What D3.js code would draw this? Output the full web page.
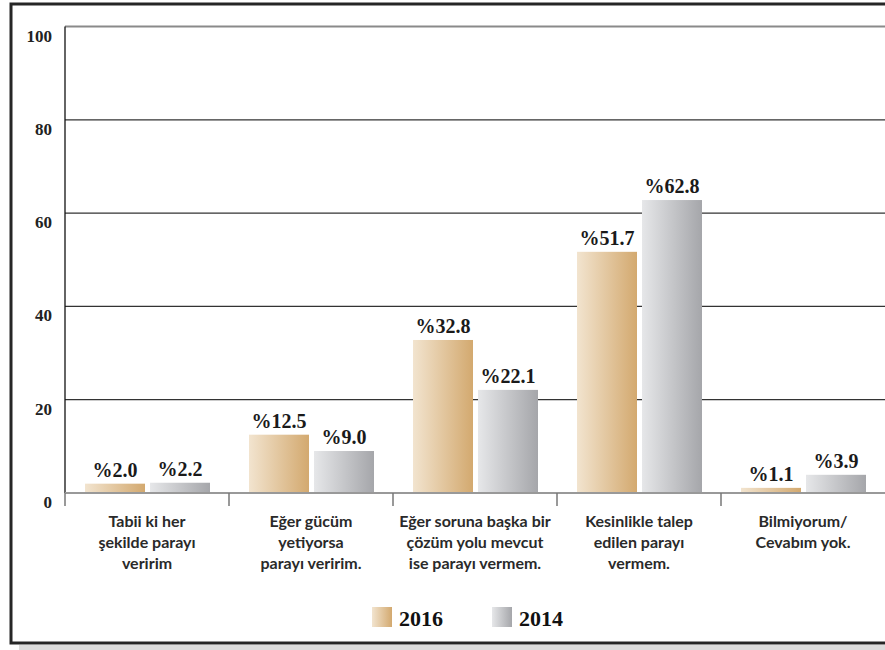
<!DOCTYPE html>
<html><head><meta charset="utf-8">
<script src="https://cdn.jsdelivr.net/npm/d3@7"></script>
<style>body{margin:0;background:#fff}svg{display:block}</style>
</head><body>
<svg id="c" width="885" height="650"></svg>
<script>
const categories = [
  ["Tabii ki her","şekilde parayı","veririm"],
  ["Eğer gücüm","yetiyorsa","parayı veririm."],
  ["Eğer soruna başka bir","çözüm yolu mevcut","ise parayı vermem."],
  ["Kesinlikle talep","edilen parayı","vermem."],
  ["Bilmiyorum/","Cevabım yok."]
];
const series = ["2016","2014"];
const values2016 = [2.0, 12.5, 32.8, 51.7, 1.1];
const values2014 = [2.2, 9.0, 22.1, 62.8, 3.9];
const yTicks = [0,20,40,60,80,100];

const svg = d3.select("#c");
const defs = svg.append("defs");
const g16 = defs.append("linearGradient").attr("id","g2016");
g16.append("stop").attr("offset","0%").attr("stop-color","#f2e4cf");
g16.append("stop").attr("offset","100%").attr("stop-color","#d3a96f");
const g14 = defs.append("linearGradient").attr("id","g2014");
g14.append("stop").attr("offset","0%").attr("stop-color","#e6e7e9");
g14.append("stop").attr("offset","100%").attr("stop-color","#a5a6aa");
const fills = {"2016":"url(#g2016)","2014":"url(#g2014)"};

// frame shadow and border
svg.append("rect").attr("x",19).attr("y",645).attr("width",870).attr("height",5).attr("fill","#dcdcdc");
svg.append("rect").attr("x",11).attr("y",4).attr("width",890).attr("height",639)
  .attr("fill","#fff").attr("stroke","#262626").attr("stroke-width",3);

const L=65, R=885, T=26.5, B=493;
const x = d3.scaleBand().domain(d3.range(categories.length)).range([L,R]).paddingInner(0).paddingOuter(0);
const xs = d3.scaleBand().domain(series).range([20,145]).paddingInner(5/65);
const y = d3.scaleLinear().domain([0,100]).range([B,T]);

// gridlines
svg.append("g").selectAll("line").data(yTicks.filter(d=>d>0)).join("line")
  .attr("x1",L).attr("x2",R).attr("y1",d=>y(d)).attr("y2",d=>y(d))
  .attr("stroke",d=>d===100?"#8a8a8a":"#333").attr("stroke-width",d=>d===100?2:1.3);

// y labels
svg.append("g").selectAll("text").data(yTicks).join("text")
  .attr("x",52).attr("y",d=>y(d)+15).attr("text-anchor","end")
  .attr("font-family","Liberation Serif, serif").attr("font-weight","bold")
  .attr("font-size",17).attr("fill","#222").text(d=>d);

// bars
const data = categories.map((c,i)=>({i, v:{"2016":values2016[i],"2014":values2014[i]}}));
const grp = svg.append("g").selectAll("g").data(data).join("g")
  .attr("transform",d=>`translate(${x(d.i)},0)`);
grp.selectAll("rect").data(d=>series.map(s=>({s,v:d.v[s]}))).join("rect")
  .attr("x",d=>xs(d.s)).attr("width",xs.bandwidth())
  .attr("y",d=>y(d.v)).attr("height",d=>B-y(d.v)).attr("fill",d=>fills[d.s]);
grp.selectAll("text").data(d=>series.map(s=>({s,v:d.v[s]}))).join("text")
  .attr("x",d=>xs(d.s)+xs.bandwidth()/2).attr("y",d=>y(d.v)-7)
  .attr("text-anchor","middle")
  .attr("font-family","Liberation Serif, serif").attr("font-weight","bold")
  .attr("font-size",20).attr("fill","#1a1a1a").text(d=>"%"+d.v.toFixed(1));

// left axis and zero line
svg.append("line").attr("x1",L).attr("x2",L).attr("y1",T).attr("y2",B).attr("stroke","#111").attr("stroke-width",1.3);
svg.append("line").attr("x1",L).attr("x2",R).attr("y1",B).attr("y2",B).attr("stroke","#999").attr("stroke-width",2);
svg.append("g").selectAll("line").data(d3.range(categories.length)).join("line")
  .attr("x1",d=>x(d)).attr("x2",d=>x(d)).attr("y1",B).attr("y2",B+13)
  .attr("stroke","#777").attr("stroke-width",1.5);

// category labels
const cl = svg.append("g").selectAll("text").data(categories).join("text")
  .attr("text-anchor","middle")
  .attr("font-family","Lato, sans-serif").attr("font-weight","bold")
  .attr("font-size",16).attr("fill","#2a2a2a");
cl.selectAll("tspan").data((d,i)=>d.map(t=>({t,i}))).join("tspan")
  .attr("x",d=>x(d.i)+x.bandwidth()/2).attr("y",(d,j)=>527+j*21).text(d=>d.t);

// legend
const lg = svg.append("g").selectAll("g").data(series).join("g")
  .attr("transform",(d,i)=>`translate(${372+i*120},607)`);
lg.append("rect").attr("width",20).attr("height",20).attr("fill",d=>fills[d]);
lg.append("text").attr("x",27).attr("y",19)
  .attr("font-family","Liberation Serif, serif").attr("font-weight","bold")
  .attr("font-size",22).attr("fill","#111").text(d=>d);
</script>
</body></html>
